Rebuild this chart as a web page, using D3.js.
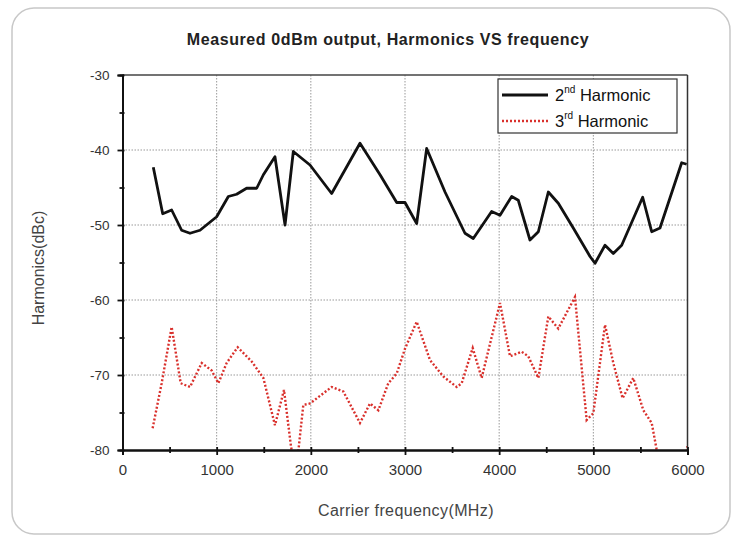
<!DOCTYPE html>
<html><head><meta charset="utf-8">
<script src="https://cdn.jsdelivr.net/npm/d3@7"></script>
<style>body{margin:0;background:#fff;}svg{display:block;}</style>
</head><body>
<script>
const freq2 = [327,427,522,628,717,823,1000,1124,1212,1318,1425,1496,1619,1726,1814,1991,2221,2522,2735,2912,3000,3124,3230,3425,3637,3725,3920,4009,4133,4203,4327,4416,4522,4628,4787,4965,5018,5124,5212,5301,5524,5620,5708,5938,5991];
const harm2 = [-42.3,-48.5,-48.0,-50.7,-51.1,-50.7,-48.9,-46.2,-45.9,-45.1,-45.1,-43.3,-40.9,-50,-40.2,-42,-45.8,-39.1,-43.3,-47,-47,-49.8,-39.8,-45.6,-51.1,-51.8,-48.2,-48.7,-46.2,-46.7,-52,-50.9,-45.6,-47.1,-50.4,-54.2,-55.1,-52.7,-53.8,-52.7,-46.3,-50.9,-50.4,-41.7,-41.9];
const freq3 = [320,416,522,618,717,841,947,1018,1106,1223,1372,1496,1619,1715,1790,1830,1860,1920,1991,2221,2345,2522,2628,2717,2823,2912,3000,3124,3265,3407,3549,3602,3719,3814,4009,4115,4239,4309,4416,4522,4628,4805,4929,5000,5124,5212,5311,5424,5531,5620,5673,5800,5950,6000];
const harm3 = [-77.1,-71.1,-63.6,-71.1,-71.6,-68.4,-69.4,-71.1,-68.4,-66.3,-68.2,-70.4,-76.7,-72,-79.6,-82,-81,-74,-73.8,-71.6,-72.2,-76.4,-73.8,-74.7,-71.1,-69.8,-66.5,-62.9,-68,-70.2,-71.6,-71.1,-66.4,-70.4,-60.4,-67.5,-66.9,-67.5,-70.4,-62.2,-63.8,-59.6,-76,-75.1,-63.3,-68.4,-73.1,-70.4,-74.7,-76.4,-80,-84,-83,-79.5];
const xTicks = [0,1000,2000,3000,4000,5000,6000];
const yTicks = [-30,-40,-50,-60,-70,-80];
const title = "Measured 0dBm output, Harmonics VS frequency";
const xTitle = "Carrier frequency(MHz)";
const yTitle = "Harmonics(dBc)";

const W = 743, H = 540;
const svg = d3.select("body").append("svg").attr("width", W).attr("height", H);
const font = "Liberation Sans, Arial, sans-serif";

svg.append("rect").attr("x", 12).attr("y", 8).attr("width", 718).attr("height", 526)
  .attr("rx", 22).attr("fill", "#fff").attr("stroke", "#c8c8c8").attr("stroke-width", 1.5);

const L = 122.5, R = 687.5, T = 75, B = 450;
const x = d3.scaleLinear().domain([0, 6000]).range([L, R]);
const y = d3.scaleLinear().domain([-80, -30]).range([B, T]);

// grid
const g = svg.append("g");
g.selectAll(".gx").data(xTicks.slice(1, -1)).enter().append("line")
  .attr("x1", d => x(d)).attr("x2", d => x(d)).attr("y1", T).attr("y2", B)
  .attr("stroke", "#999").attr("stroke-width", 1).attr("stroke-dasharray", "1.5,1.5");
g.selectAll(".gy").data(yTicks.slice(1, -1)).enter().append("line")
  .attr("x1", L).attr("x2", R).attr("y1", d => y(d)).attr("y2", d => y(d))
  .attr("stroke", "#999").attr("stroke-width", 1).attr("stroke-dasharray", "1.5,1.5");

// clip
svg.append("clipPath").attr("id", "clip").append("rect")
  .attr("x", L).attr("y", T).attr("width", R - L).attr("height", B - T);

const line = d3.line().x(d => x(d[0])).y(d => y(d[1]));
svg.append("path").datum(freq3.map((f, i) => [f, harm3[i]]))
  .attr("clip-path", "url(#clip)").attr("d", line).attr("fill", "none")
  .attr("stroke", "#d9302c").attr("stroke-width", 2.4).attr("stroke-dasharray", "2,2");
svg.append("path").datum(freq2.map((f, i) => [f, harm2[i]]))
  .attr("clip-path", "url(#clip)").attr("d", line).attr("fill", "none")
  .attr("stroke", "#111").attr("stroke-width", 2.8).attr("stroke-linejoin", "round");

// frame top/right
svg.append("line").attr("x1", L).attr("x2", R).attr("y1", T).attr("y2", T).attr("stroke", "#444").attr("stroke-width", 1.5);
svg.append("line").attr("x1", R).attr("x2", R).attr("y1", T).attr("y2", B).attr("stroke", "#333").attr("stroke-width", 1.5);

// axes
const fmt = d => String(d);
const xAxis = d3.axisBottom(x).tickValues(xTicks).tickSize(5).tickPadding(9).tickFormat(fmt);
const xMinor = d3.axisBottom(x).tickValues(d3.range(500, 6000, 1000)).tickSize(3).tickFormat("");
const yAxis = d3.axisLeft(y).tickValues(yTicks).tickSize(5).tickPadding(8).tickFormat(fmt);
const yMinor = d3.axisLeft(y).tickValues(d3.range(-75, -30, 10)).tickSize(3).tickFormat("");

function styleAxis(sel, size, horiz) {
  sel.select(".domain").attr("stroke", "#111").attr("stroke-width", 2);
  sel.selectAll(".tick line").attr("stroke", "#111").attr("stroke-width", 1.8);
  if (horiz) sel.selectAll(".tick line").attr("y1", -3);
  else sel.selectAll(".tick line").attr("x1", 2);
  sel.selectAll("text").attr("font-family", font).attr("font-size", size).attr("fill", "#333");
}
svg.append("g").attr("transform", `translate(0,${B})`).call(xMinor).call(styleAxis, 15, true);
svg.append("g").attr("transform", `translate(0,${B})`).call(xAxis).call(styleAxis, 15, true);
svg.append("g").attr("transform", `translate(${L},0)`).call(yMinor).call(styleAxis, 13.5, false);
svg.append("g").attr("transform", `translate(${L},0)`).call(yAxis).call(styleAxis, 13.5, false);

// titles
svg.append("text").attr("x", 388).attr("y", 45).attr("text-anchor", "middle")
  .attr("font-family", font).attr("font-size", 16).attr("font-weight", "bold")
  .attr("letter-spacing", 0.6).attr("fill", "#222").text(title);
svg.append("text").attr("x", 406).attr("y", 516).attr("text-anchor", "middle")
  .attr("font-family", font).attr("font-size", 16).attr("letter-spacing", 0.4).attr("fill", "#444").text(xTitle);
svg.append("text").attr("transform", "translate(44,268) rotate(-90)").attr("text-anchor", "middle")
  .attr("font-family", font).attr("font-size", 16).attr("fill", "#444").text(yTitle);

// legend
const lg = svg.append("g");
lg.append("rect").attr("x", 498).attr("y", 79).attr("width", 179).attr("height", 54)
  .attr("fill", "#fff").attr("stroke", "#333").attr("stroke-width", 1.2);
const items = [
  {y: 95, num: "2", sup: "nd", color: "#111", dash: null, w: 2.8},
  {y: 121, num: "3", sup: "rd", color: "#d9302c", dash: "2,2", w: 2.4}
];
items.forEach(it => {
  lg.append("line").attr("x1", 502).attr("x2", 548).attr("y1", it.y).attr("y2", it.y)
    .attr("stroke", it.color).attr("stroke-width", it.w).attr("stroke-dasharray", it.dash);
  const t = lg.append("text").attr("x", 555).attr("y", it.y + 6)
    .attr("font-family", font).attr("font-size", 16.5).attr("fill", "#111");
  t.append("tspan").text(it.num);
  t.append("tspan").attr("font-size", 10).attr("dy", -8).text(it.sup);
  t.append("tspan").attr("dy", 8).text(" Harmonic");
});
</script>
</body></html>
